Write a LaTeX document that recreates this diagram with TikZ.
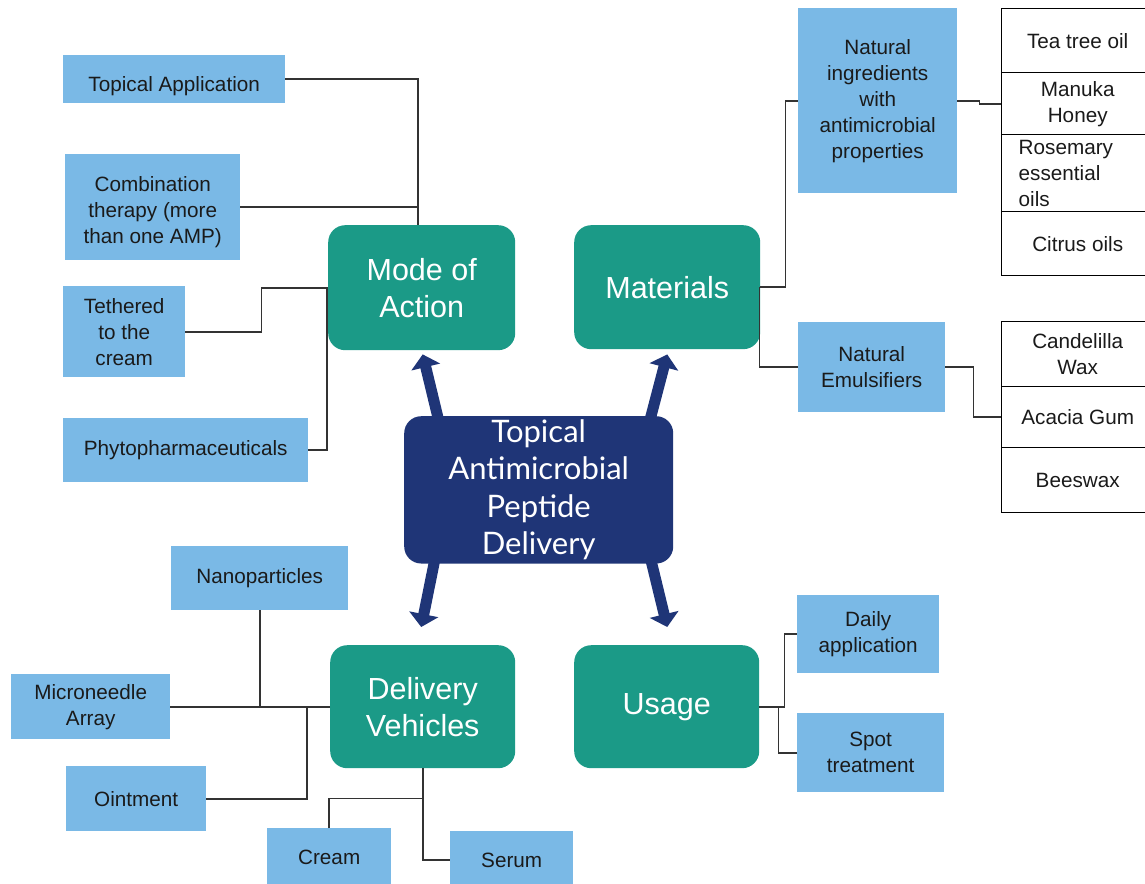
\documentclass[tikz,border=0pt]{standalone}
\usepackage{fontspec}
\setmainfont{Liberation Sans}
\newfontfamily\latofont{Lato}
\usetikzlibrary{calc,arrows.meta,backgrounds}

\definecolor{lightbox}{HTML}{7AB9E6}
\definecolor{tealbox}{HTML}{1B9A87}
\definecolor{hubblue}{HTML}{1F3577}
\definecolor{linegray}{HTML}{333333}
\definecolor{inkdark}{HTML}{1A1A1A}

\tikzset{
  lbox/.style={anchor=north west, fill=lightbox, draw=none, inner sep=2pt,
    align=center, text=inkdark, font=\fontsize{20.7}{26}\selectfont},
  lowlabel/.style={align=center, text=inkdark, inner sep=0pt,
    font=\fontsize{20.7}{26}\selectfont, yshift=#1},
  wbox/.style={anchor=north west, fill=white, draw=black, line width=1.4pt,
    minimum width=152pt, inner sep=2pt, align=center, text=inkdark,
    font=\fontsize{20.7}{26}\selectfont},
  tbox/.style={anchor=north west, fill=tealbox, draw=none, rounded corners=17pt,
    align=center, text=white, font=\fontsize{30.5}{37}\selectfont},
  conn/.style={draw=linegray, line width=1.7pt},
  bigarrow/.style={draw=hubblue, line width=11pt,
    -{Triangle[width=29pt,length=13pt]}},
}

\begin{document}
\begin{tikzpicture}[x=1pt, y=-1pt]
\useasboundingbox (0,0) rectangle (1145,883);

% central topic
\node[anchor=north west, fill=hubblue, rounded corners=17pt,
      minimum width=269pt, minimum height=145pt, align=center, text=white,
      font=\latofont\fontsize{31}{37.5}\selectfont]
  (hub) at (404,416) {Topical\\Antimicrobial\\Peptide\\Delivery};

% four branches
\node[tbox, minimum width=187pt, minimum height=125pt] (moa) at (328,225) {Mode of\\Action};
\node[tbox, minimum width=186pt, minimum height=124pt] (mat) at (574,225) {Materials};
\node[tbox, minimum width=185pt, minimum height=123pt] (dv) at (330,645) {Delivery\\Vehicles};
\node[tbox, minimum width=185pt, minimum height=123pt] (usage) at (574,645) {Usage};

% mode of action leaves (the first two carry their text a little low)
\node[lbox, minimum width=222pt, minimum height=48pt,
      label={[lowlabel=-7pt]center:Topical Application}] (topapp) at (63,55) {};
\node[lbox, minimum width=175pt, minimum height=106pt,
      label={[lowlabel=-5pt]center:Combination\\therapy (more\\than one AMP)}] (combo) at (65,154) {};
\node[lbox, minimum width=122pt, minimum height=91pt] (tether) at (63,286) {Tethered\\to the\\cream};
\node[lbox, minimum width=245pt, minimum height=64pt] (phyto) at (63,418) {Phytopharmaceuticals};

% materials leaves
\node[lbox, minimum width=159pt, minimum height=185pt] (natingr) at (798,8) {Natural\\ingredients\\with\\antimicrobial\\properties};
\node[lbox, minimum width=147pt, minimum height=90pt] (natemul) at (798,322) {Natural\\Emulsifiers};

\node[wbox, minimum height=64pt] (tea) at (1001,8) {Tea tree oil};
\node[wbox, minimum height=62pt] (manuka) at (1001,72) {Manuka\\Honey};
\node[wbox, minimum height=77pt, align=left, inner xsep=17pt, text width=118pt,
      inner ysep=0pt] (rosemary) at (1001,134) {Rosemary\\essential\\oils};
\node[wbox, minimum height=64pt] (citrus) at (1001,211) {Citrus oils};

\node[wbox, minimum height=65pt] (candel) at (1001,321) {Candelilla\\Wax};
\node[wbox, minimum height=61pt] (acacia) at (1001,386) {Acacia Gum};
\node[wbox, minimum height=65pt] (beeswax) at (1001,447) {Beeswax};

% delivery vehicle leaves
\node[lbox, minimum width=177pt, minimum height=64pt] (nano) at (171,546) {Nanoparticles};
\node[lbox, minimum width=159pt, minimum height=65pt] (micro) at (11,674) {Microneedle\\Array};
\node[lbox, minimum width=140pt, minimum height=65pt] (oint) at (66,766) {Ointment};
\node[lbox, minimum width=124pt, minimum height=58pt] (cream) at (267,828) {Cream};
\node[lbox, minimum width=123pt, minimum height=58pt] (serum) at (450,831) {Serum};

% usage leaves
\node[lbox, minimum width=142pt, minimum height=78pt] (daily) at (797,595) {Daily\\application};
\node[lbox, minimum width=147pt, minimum height=79pt] (spot) at (797,713) {Spot\\treatment};

% block arrows out of the central topic
\begin{pgfonlayer}{background}
\draw[bigarrow] ($(hub.north west)+(36,10)$) -- ($(moa.south)+(1,4)$);
\draw[bigarrow] ($(hub.north east)+(-25,10)$) -- ($(mat.south)+(0,5)$);
\draw[bigarrow] ($(hub.south west)+(32,-10)$) -- ($(dv.north)+(-1.5,-18)$);
\draw[bigarrow] ($(hub.south east)+(-24,-10)$) -- ($(usage.north)+(0.5,-18)$);
\end{pgfonlayer}

% mode of action connectors
\coordinate (moatop) at ($(moa.north)+(-4,0)$);
\draw[conn] (topapp.east) -| (moatop);
\draw[conn] (combo.east) -- (combo.east -| moatop);
\draw[conn] (tether.east) -- ++(76,0) |- (moa.west);
\draw[conn] (phyto.east) -| ($(moa.west)+(-1,0)$);

% materials connectors
\draw[conn] (mat.east) -- ++(25,0) |- (natingr.west);
\draw[conn] ($(mat.east)+(-1,0)$) |- (natemul.west);
\draw[conn] (natingr.east) -- ++(22,0) |- (manuka.west);
\draw[conn] (natemul.east) -- ++(28,0) |- (acacia.west);

% delivery vehicle connectors
\draw[conn] (dv.west) -- (micro.east);
\draw[conn] (nano.south) -- (nano.south |- dv.west);
\draw[conn] (oint.east) -| ($(dv.west)+(-23,0)$);
\draw[conn] (dv.south) |- (serum.west);
\draw[conn] (cream.north) |- ($(dv.south)+(0,30)$);

% usage connectors
\draw[conn] (usage.east) -- ++(25,0) |- (daily.west);
\draw[conn] (usage.east) -- ++(19,0) |- (spot.west);
\end{tikzpicture}
\end{document}
